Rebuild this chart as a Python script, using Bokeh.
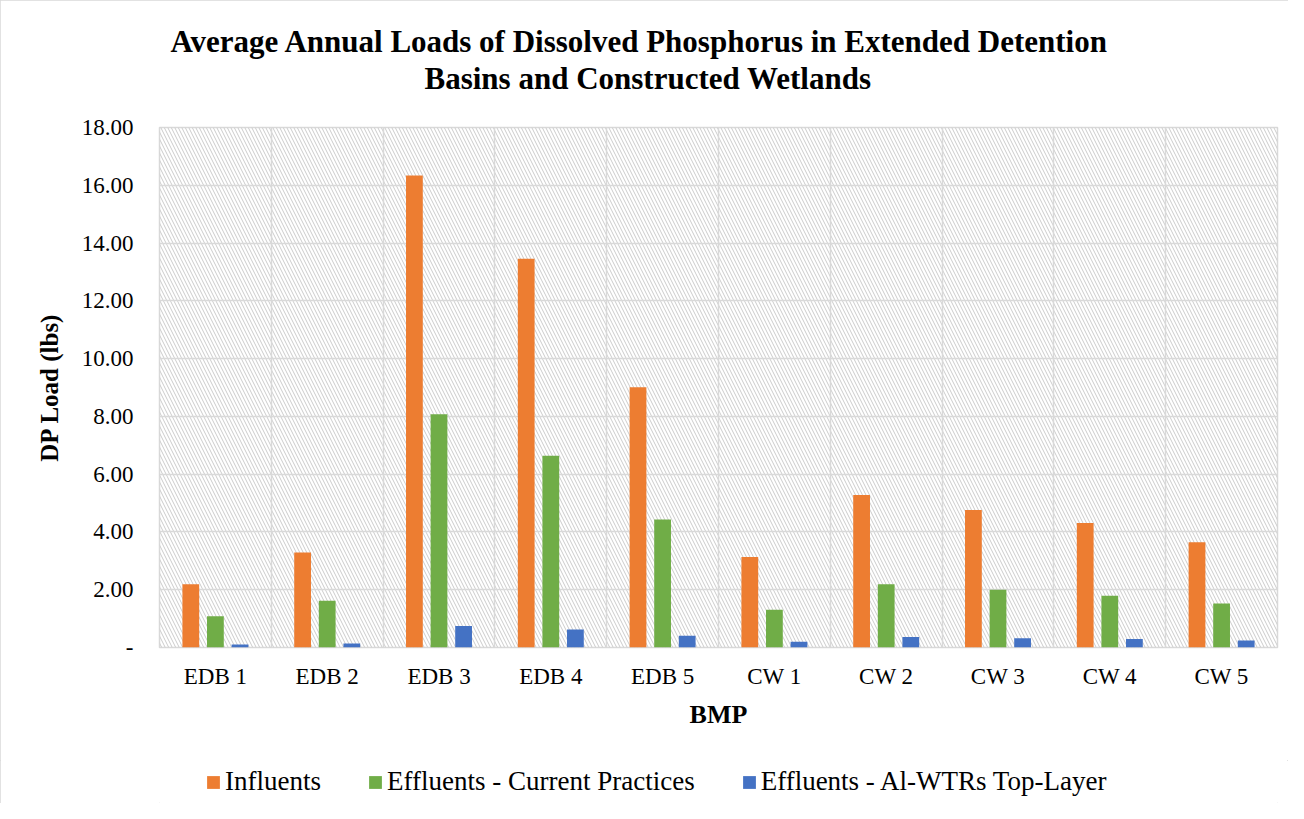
from bokeh.plotting import figure
from bokeh.layouts import column
from bokeh.models import (ColumnDataSource, FactorRange, Range1d, FixedTicker,
                          NumeralTickFormatter, BoxAnnotation, Title, Legend, LegendItem)
from bokeh.transform import dodge
from bokeh.embed import file_html
from bokeh.resources import INLINE

# ---- data ----
categories = ["EDB 1", "EDB 2", "EDB 3", "EDB 4", "EDB 5",
              "CW 1", "CW 2", "CW 3", "CW 4", "CW 5"]
influents = [2.19, 3.29, 16.34, 13.46, 9.01, 3.13, 5.28, 4.76, 4.31, 3.64]
effluents_current = [1.08, 1.62, 8.07, 6.64, 4.43, 1.31, 2.19, 2.00, 1.79, 1.52]
effluents_alwtr = [0.10, 0.14, 0.74, 0.62, 0.41, 0.20, 0.36, 0.32, 0.29, 0.24]
series_names = ["Influents", "Effluents - Current Practices", "Effluents - Al-WTRs Top-Layer"]
series_colors = ["#ED7D31", "#70AD47", "#4472C4"]
y_ticks = [0, 2, 4, 6, 8, 10, 12, 14, 16, 18]
title_lines = ["Average Annual Loads of Dissolved Phosphorus in Extended Detention",
               "Basins and Constructed Wetlands"]

SERIF = "Liberation Serif"
W = 1288

source = ColumnDataSource(data=dict(cat=categories, inf=influents,
                                    cur=effluents_current, alw=effluents_alwtr))
cols = ["inf", "cur", "alw"]
offsets = [-0.22, 0.0, 0.22]

p = figure(width=W, height=760, x_range=FactorRange(*categories, range_padding=0),
           y_range=Range1d(0, 18), output_backend="svg", toolbar_location=None,
           min_border_left=159, min_border_right=11, min_border_top=127,
           min_border_bottom=113)
p.x_range.factor_padding = 0

p.background_fill_alpha = 0
p.border_fill_color = "white"
p.outline_line_color = "#d9d9d9"
p.outline_line_width = 1.5

# hatch background of the plot area
hatch = BoxAnnotation(fill_alpha=0, line_alpha=0, hatch_pattern="\\",
                      hatch_color="#cbcbcb", hatch_scale=7, hatch_weight=1,
                      level="image")
p.add_layout(hatch)

# grids
p.ygrid.ticker = FixedTicker(ticks=y_ticks)
p.ygrid.grid_line_color = "#d9d9d9"
p.ygrid.grid_line_width = 1.5
p.xgrid.ticker = FixedTicker(ticks=list(range(len(categories) + 1)))
p.xgrid.grid_line_color = "#d9d9d9"
p.xgrid.grid_line_width = 1.5

# bars
for col, off, color in zip(cols, offsets, series_colors):
    p.vbar(x=dodge("cat", off, range=p.x_range), top=col, width=0.15,
           source=source, fill_color=color, line_color=None)

# axes
p.yaxis.ticker = FixedTicker(ticks=y_ticks)
p.yaxis.formatter = NumeralTickFormatter(format="0.00")
p.yaxis.major_label_overrides = {0: "-"}
p.yaxis.axis_line_color = None
p.yaxis.major_tick_line_color = None
p.yaxis.minor_tick_line_color = None
p.yaxis.major_tick_out = 0
p.yaxis.major_label_standoff = 26
p.yaxis.major_label_text_font = SERIF
p.yaxis.major_label_text_font_size = "23px"
p.yaxis.major_label_text_color = "black"
p.yaxis.axis_label = "DP Load (lbs)"
p.yaxis.axis_label_text_font = SERIF
p.yaxis.axis_label_text_font_style = "bold"
p.yaxis.axis_label_text_font_size = "25px"
p.yaxis.axis_label_text_color = "black"
p.yaxis.axis_label_standoff = 16

p.xaxis.axis_line_color = None
p.xaxis.major_tick_line_color = None
p.xaxis.minor_tick_line_color = None
p.xaxis.major_tick_out = 0
p.xaxis.major_label_standoff = 16
p.xaxis.major_label_text_font = SERIF
p.xaxis.major_label_text_font_size = "23px"
p.xaxis.major_label_text_color = "black"
p.xaxis.axis_label = "BMP"
p.xaxis.axis_label_text_font = SERIF
p.xaxis.axis_label_text_font_style = "bold"
p.xaxis.axis_label_text_font_size = "26px"
p.xaxis.axis_label_text_color = "black"
p.xaxis.axis_label_standoff = 8

# title: blank spacer next to the frame, then line 2, then line 1
spacer = Title(text=" ", text_font_size="2px", standoff=28, text_color="white")
t2 = Title(text=title_lines[1], align="left", offset=265, standoff=0,
           text_font=SERIF, text_font_style="bold", text_font_size="31px",
           text_color="black")
t1 = Title(text=title_lines[0], align="left", offset=11, standoff=0,
           text_font=SERIF, text_font_style="bold", text_font_size="31px",
           text_color="black")
p.add_layout(spacer, "above")
p.add_layout(t2, "above")
p.add_layout(t1, "above")

# legend strip underneath (same data; its bar renderers are hidden)
lf = figure(width=W, height=43, x_range=p.x_range, y_range=Range1d(0, 18),
            output_backend="svg", toolbar_location=None, min_border=0)
lf.axis.visible = False
lf.grid.visible = False
lf.outline_line_color = None
lf_renderers = []
for col, off, color in zip(cols, offsets, series_colors):
    r = lf.vbar(x=dodge("cat", off, range=lf.x_range), top=col, width=0.15,
                source=source, fill_color=color, line_color=None, visible=False)
    lf_renderers.append(r)

legend = Legend(items=[LegendItem(label=n, renderers=[r]) for n, r in zip(series_names, lf_renderers)],
                orientation="horizontal", location=(46, 6),
                label_text_font=SERIF, label_text_font_size="27px", label_text_color="black",
                glyph_width=16, glyph_height=16, label_standoff=4, spacing=46,
                padding=0, margin=0, border_line_alpha=0, background_fill_alpha=0)
lf.add_layout(legend)

layout = column(p, lf, spacing=0)
layout.styles = {"outline": "1px solid #d9d9d9", "outline-offset": "-1px"}

open("out.html", "w").write(file_html(layout, INLINE))
